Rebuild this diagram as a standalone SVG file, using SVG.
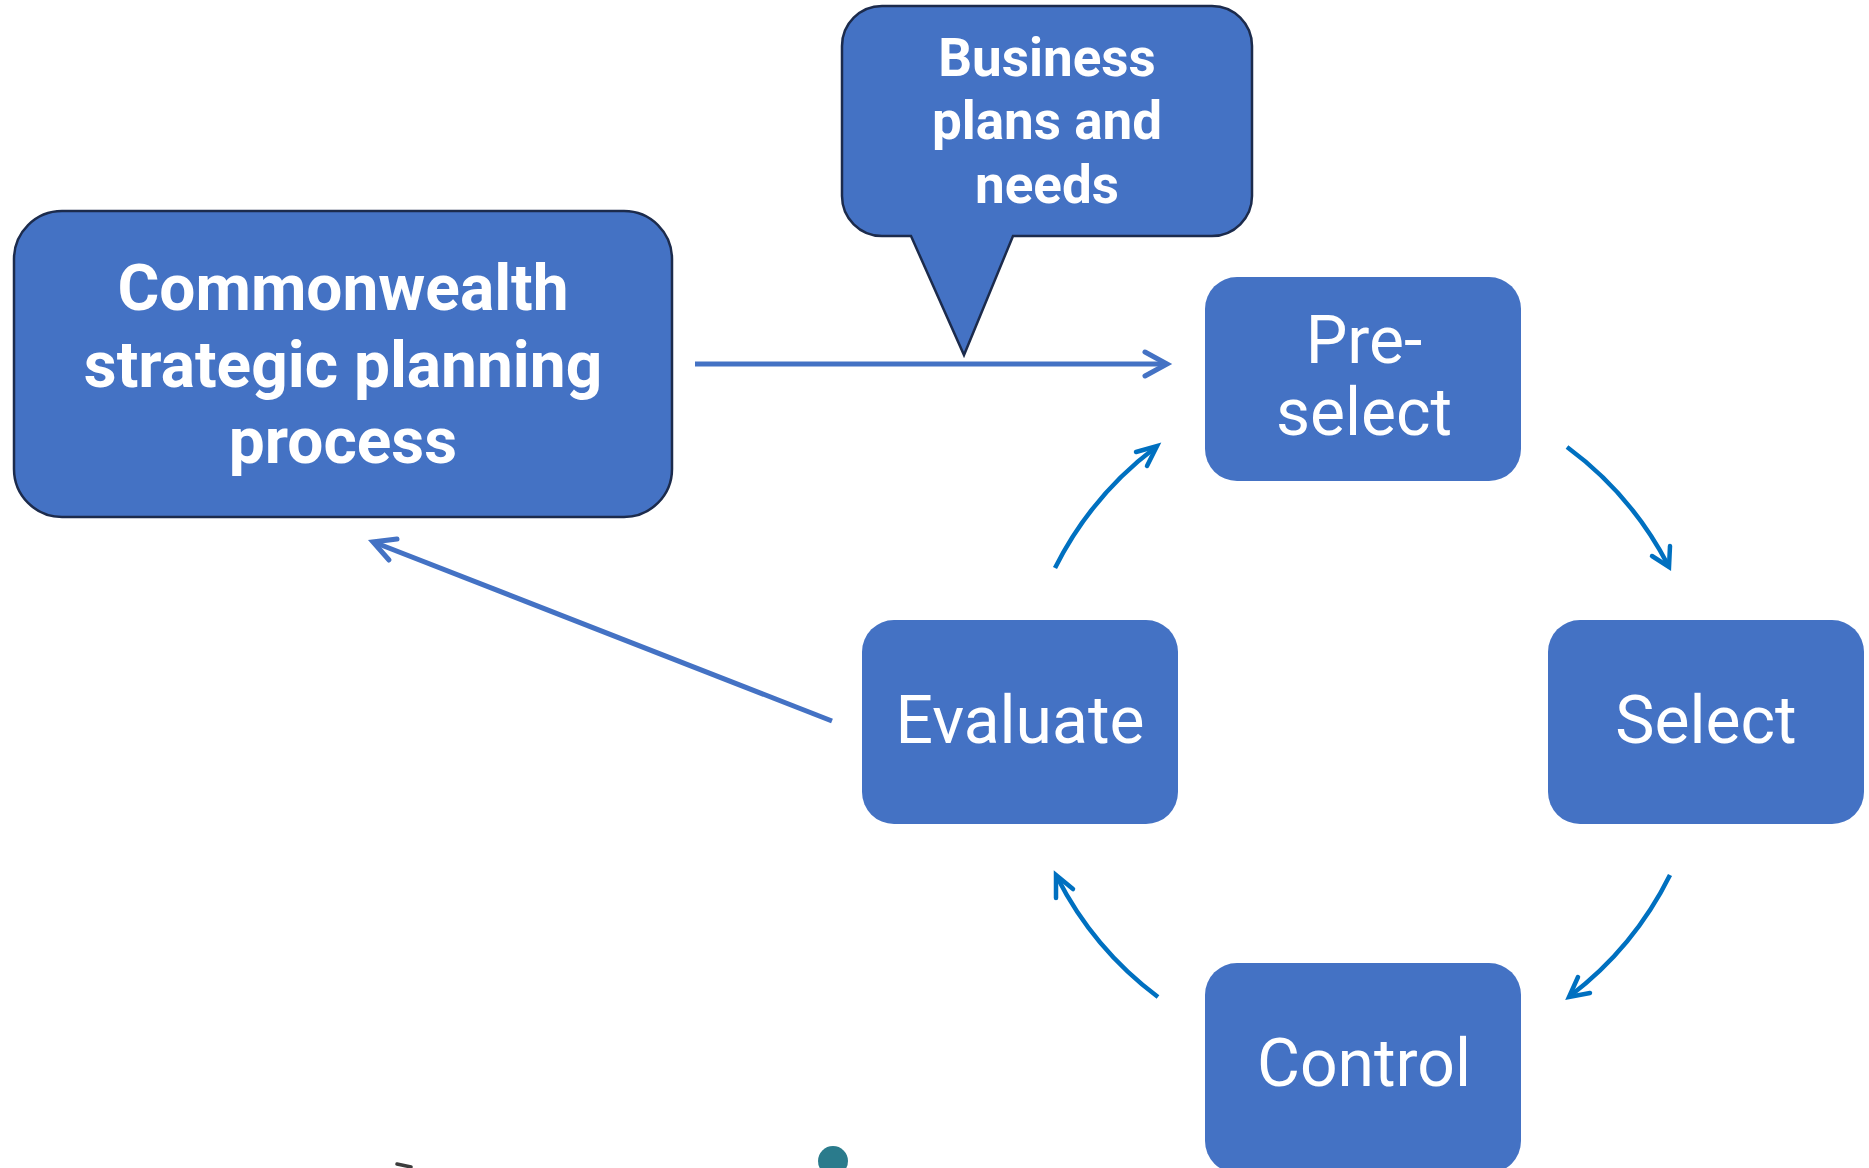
<svg xmlns="http://www.w3.org/2000/svg" width="1869" height="1168" viewBox="0 0 1869 1168">
<style>
.box{fill:#4472C4;}
.outl{fill:#4472C4;stroke:#1C2B4C;stroke-width:2.5;}
.bt{font-family:Roboto,"Liberation Sans",sans-serif;font-weight:bold;fill:#FFFFFF;text-anchor:middle;}
.rt{font-family:Roboto,"Liberation Sans",sans-serif;font-weight:normal;fill:#FFFFFF;text-anchor:middle;font-size:66px;}
.c1{fill:none;stroke:#4472C4;stroke-width:5;}
.c2{fill:none;stroke:#0070C0;stroke-width:4.5;}
.ah1{fill:none;stroke:#4472C4;stroke-width:5;stroke-linecap:round;stroke-linejoin:miter;}
.ah2{fill:none;stroke:#0070C0;stroke-width:4.5;stroke-linecap:round;stroke-linejoin:miter;}
</style>
<rect width="1869" height="1168" fill="#FFFFFF"/>
<g id="commonwealth">
<rect class="outl" x="14" y="211" width="658" height="306" rx="48" ry="48"/>
<text class="bt" font-size="64" x="343" y="310">Commonwealth</text>
<text class="bt" font-size="64" x="343" y="387">strategic planning</text>
<text class="bt" font-size="64" x="343" y="463">process</text>
</g>
<g id="business">
<path class="outl" d="M882,6 H1212 A40,40 0 0 1 1252,46 V196 A40,40 0 0 1 1212,236 H1013 L964,355 L911,236 H882 A40,40 0 0 1 842,196 V46 A40,40 0 0 1 882,6 Z"/>
<text class="bt" font-size="53" x="1047" y="76">Business</text>
<text class="bt" font-size="53" x="1047" y="139">plans and</text>
<text class="bt" font-size="53" x="1047" y="203">needs</text>
</g>
<g id="preselect">
<rect class="box" x="1205" y="277" width="316" height="204" rx="32" ry="32"/>
<text class="rt" x="1364" y="363">Pre-</text>
<text class="rt" x="1364" y="435">select</text>
</g>
<g id="select">
<rect class="box" x="1548" y="620" width="316" height="204" rx="32" ry="32"/>
<text class="rt" x="1706" y="743">Select</text>
</g>
<g id="evaluate">
<rect class="box" x="862" y="620" width="316" height="204" rx="32" ry="32"/>
<text class="rt" x="1020" y="743">Evaluate</text>
</g>
<g id="control">
<rect class="box" x="1205" y="963" width="316" height="210" rx="32" ry="32"/>
<text class="rt" x="1364" y="1086">Control</text>
</g>
<g id="connectors">
<path class="c1" d="M695,364 H1165"/>
<path class="ah1" d="M1145,352 L1167,364 L1145,376"/>
<path class="c1" d="M832,721 L376,543"/>
<path class="ah1" d="M397,539 L373,542 L389,560"/>
<path class="c2" d="M1055,568 A344,344 0 0 1 1156,447"/>
<path class="ah2" d="M1136,452 L1157,446 L1147,466"/>
<path class="c2" d="M1567,447 A344,344 0 0 1 1668,565"/>
<path class="ah2" d="M1652,556 L1669,567 L1670,546"/>
<path class="c2" d="M1670,875 A344,344 0 0 1 1570,996"/>
<path class="ah2" d="M1578,977 L1569,997 L1590,993"/>
<path class="c2" d="M1158,997 A344,344 0 0 1 1057,877"/>
<path class="ah2" d="M1056,898 L1056,875 L1073,889"/>
</g>
<circle cx="833" cy="1161" r="15" fill="#2A7B8C"/>
<path d="M397,1164 L411,1167" fill="none" stroke="#3C3C3C" stroke-width="3.5" stroke-linecap="round"/>
</svg>
